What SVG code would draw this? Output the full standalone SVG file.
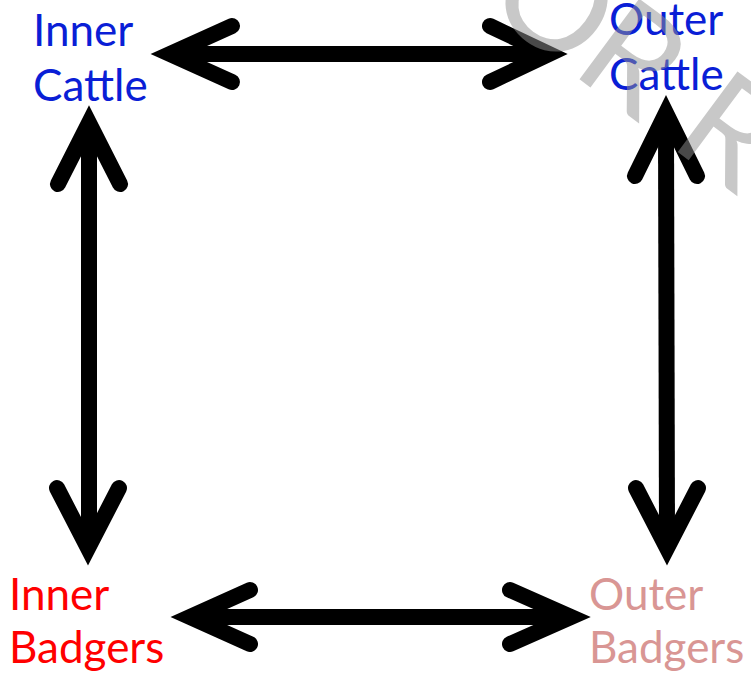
<svg xmlns="http://www.w3.org/2000/svg" width="751" height="674" viewBox="0 0 751 674">
<style>
.lbl{font-family:Lato,"Liberation Sans",sans-serif;font-size:44px}
.blue{fill:#0a1ed6}
.red{fill:#ff0000}
.pink{fill:#d99694}
.ln{stroke:#000;stroke-width:16;fill:none;stroke-linecap:butt}
.hd{stroke:#000;stroke-width:16;fill:none;stroke-linecap:round;stroke-linejoin:miter;stroke-miterlimit:10}
.wm{font-family:Lato,"Liberation Sans",sans-serif;font-size:140px;fill:#929292;opacity:0.5}
</style>
<rect width="751" height="674" fill="#fff"/>
<g id="connectors">
  <g id="ic-oc">
    <line class="ln" x1="178" y1="54" x2="540" y2="54"/>
    <polyline class="hd" points="232,26 170,54 232,82"/>
    <polyline class="hd" points="490,26 549,54 490,82"/>
  </g>
  <g id="ib-ob">
    <line class="ln" x1="198" y1="617" x2="562" y2="617"/>
    <polyline class="hd" points="250,590 190,617 250,644"/>
    <polyline class="hd" points="510,590 571,617 510,644"/>
  </g>
  <g id="ic-ib">
    <line class="ln" x1="89" y1="133" x2="89" y2="538"/>
    <polyline class="hd" points="58,184 89,123 120,184"/>
    <polyline class="hd" points="57,488 88,548 119,488"/>
  </g>
  <g id="oc-ob">
    <line class="ln" x1="666" y1="123" x2="667" y2="538"/>
    <polyline class="hd" points="635,176 666,113 697,176"/>
    <polyline class="hd" points="636,488 667,548 698,488"/>
  </g>
</g>
<g id="inner-cattle"><text class="lbl blue" x="33" y="46">Inner</text><text class="lbl blue" x="33" y="101">Cattle</text></g>
<g id="outer-cattle"><text class="lbl blue" x="609" y="35">Outer</text><text class="lbl blue" x="609" y="90">Cattle</text></g>
<g id="inner-badgers"><text class="lbl red" x="9" y="610">Inner</text><text class="lbl red" x="9" y="663">Badgers</text></g>
<g id="outer-badgers"><text class="lbl pink" x="589" y="610">Outer</text><text class="lbl pink" x="589" y="663">Badgers</text></g>
<text class="wm" transform="translate(579,79) rotate(36.5)"><tspan x="-121">O</tspan><tspan x="-12">R</tspan><tspan x="110">R</tspan></text>
</svg>
